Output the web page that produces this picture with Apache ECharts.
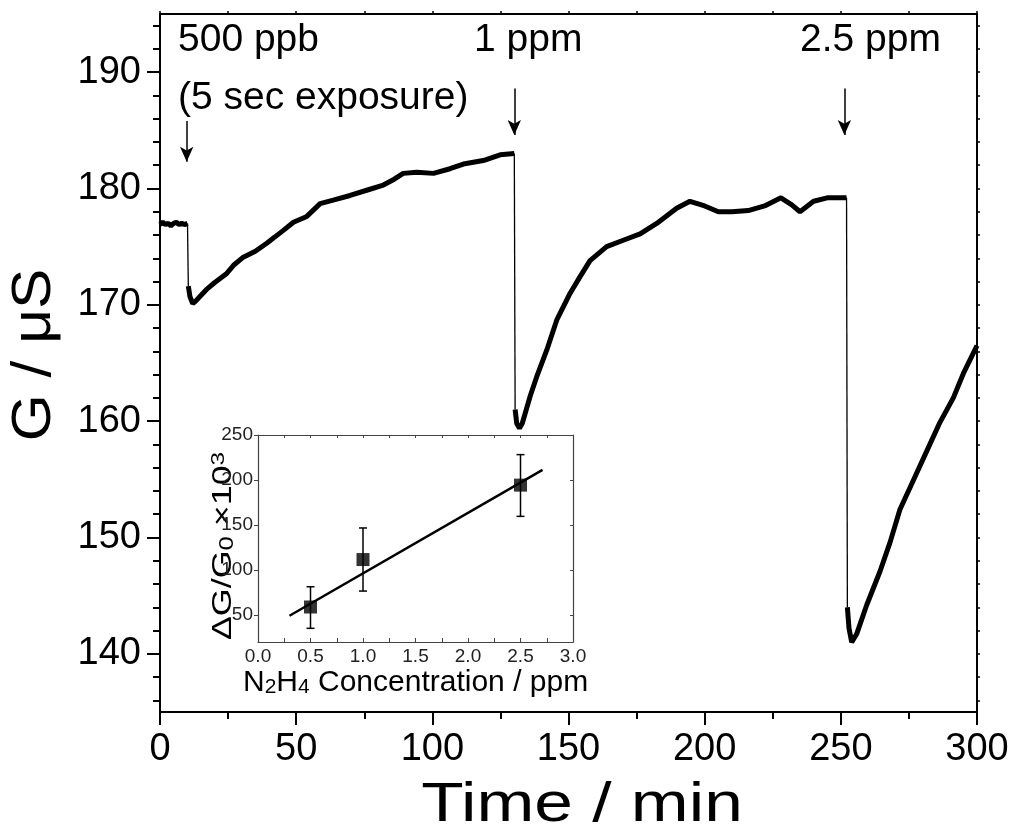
<!DOCTYPE html>
<html><head><meta charset="utf-8">
<script src="https://cdn.jsdelivr.net/npm/echarts@6/dist/echarts.min.js"></script>
<style>html,body{margin:0;padding:0;background:#fff}#c{width:1016px;height:828px}</style>
</head><body><div id="c"></div>
<script>
const FONT = 'Liberation Sans, Arial, sans-serif';

// ---- main trace: [time (min), G (µS)] ----
const baseline0 = [[0,176.9],[1,177.1],[2,176.9],[3,177.0],[4,176.8],[5,177.0],[6,177.1],[7,176.9],[8,177.0],[9,176.9],[10.1,177.0]];
const drop500ppb = [[10.1,177.0],[10.4,171.6]];
const recovery1 = [[10.4,171.6],[11,170.7],[12,170.1],[13,170.3],[15,170.8],[17,171.3],[20,171.9],[24.5,172.7],[27,173.4],[30.6,174.1],[35,174.6],[39.2,175.3],[42,175.8],[45.3,176.4],[49,177.1],[53.9,177.6],[58.8,178.7],[63.6,179.0],[69.8,179.4],[75.9,179.85],[82,180.3],[86,180.8],[89.3,181.3],[94.3,181.4],[100.4,181.3],[106.5,181.7],[111.4,182.1],[118.7,182.4],[124.9,182.9],[130.1,183.0]];
const drop1ppm = [[130.1,183.0],[130.4,161.0]];
const recovery2 = [[130.4,161.0],[131,159.8],[132,159.4],[133,159.8],[134,160.6],[136,162.2],[138.3,163.8],[142,166.1],[145.7,168.7],[150.6,171.0],[154.2,172.4],[157.9,173.8],[164,175.0],[170.1,175.55],[176.3,176.1],[182.4,177.0],[189.7,178.3],[194.6,178.9],[200,178.5],[205,178.0],[210,178.0],[216,178.1],[222,178.5],[228,179.2],[232,178.6],[235,178.0],[240,178.9],[245,179.2],[252.1,179.2]];
const drop2p5ppm = [[252.1,179.2],[252.4,144.0]];
const recovery3 = [[252.4,144.0],[253,142.2],[254,141.0],[255.8,141.7],[259.5,144.2],[264.4,147.1],[268.1,149.6],[271.7,152.4],[276.6,154.9],[281.5,157.4],[286.4,159.9],[291.3,162.0],[295,164.1],[300,166.5]];

// exposure arrows: time, start G, end G
const arrowTimes = [9.8, 130.1, 251.3];
const arrowFrom = [185.8, 188.6, 188.6];
const arrowTo = [182.3, 184.6, 184.6];

// axis ticks
const yMajor = [140,150,160,170,180,190];
const yMinor = [136,138,142,144,146,148,152,154,156,158,162,164,166,168,172,174,176,178,182,184,186,188,192,194];
const yAll = [136,138,140,142,144,146,148,150,152,154,156,158,160,162,164,166,168,170,172,174,176,178,180,182,184,186,188,190,192,194];

// ---- inset ----
const conc = [0.5, 1.0, 2.5];
const response = [58.9, 111.6, 194.3];
const errLow = [35.2, 76.6, 159.6];
const errHigh = [81.4, 146.7, 228.2];
const fitLine = [[0.3, 49.2], [2.71, 211.2]];
const insetYTicks = [50,100,150,200,250];

const chart = echarts.init(document.getElementById('c'), null, {renderer:'canvas'});

const traceStyle = {color:'#000', width:5};
const thin = {color:'#000', width:1.3};

function txt(x, y, text, size, opt) {
  return Object.assign({type:'text', x:x, y:y, style:{text:text, font:size+'px '+FONT, fill:'#000',
    textAlign:'left', align:'left', textVerticalAlign:'top', verticalAlign:'top'}}, opt || {});
}

const option = {
  animation:false,
  backgroundColor:'#fff',
  grid:[
    {left:160, top:14, width:817, height:698, containLabel:false},
    {left:258, top:435, width:315, height:207, containLabel:false}
  ],
  xAxis:[
    {type:'value', gridIndex:0, position:'bottom', min:0, max:300, interval:50,
     axisLine:{show:true, onZero:false, lineStyle:{color:'#000', width:2}},
     axisTick:{show:true, inside:false, length:13, lineStyle:{color:'#000', width:2}},
     minorTick:{show:true, splitNumber:2, length:7, lineStyle:{color:'#000', width:2}},
     axisLabel:{fontSize:38, color:'#000', fontFamily:FONT, margin:19},
     splitLine:{show:false}, minorSplitLine:{show:false}},
    {type:'value', gridIndex:0, position:'top', min:0, max:300, interval:25,
     axisLine:{show:true, onZero:false, lineStyle:{color:'#000', width:2}},
     axisTick:{show:true, inside:false, length:3, lineStyle:{color:'#000', width:1.5}},
     axisLabel:{show:false}, splitLine:{show:false}},
    {type:'value', gridIndex:1, position:'bottom', min:0, max:3, interval:0.5,
     axisLine:{show:true, onZero:false, lineStyle:{color:'#444', width:1.2}},
     axisTick:{show:true, inside:true, length:4, lineStyle:{color:'#444', width:1}},
     minorTick:{show:true, splitNumber:2, length:4, lineStyle:{color:'#444', width:1}},
     axisLabel:{fontSize:19, color:'#222', fontFamily:FONT, margin:5, formatter:v=>v.toFixed(1)},
     splitLine:{show:false}, minorSplitLine:{show:false}},
    {type:'value', gridIndex:1, position:'top', min:0, max:3, interval:0.25,
     axisLine:{show:true, onZero:false, lineStyle:{color:'#444', width:1.2}},
     axisTick:{show:true, inside:true, length:3, lineStyle:{color:'#444', width:1}},
     axisLabel:{show:false}, splitLine:{show:false}}
  ],
  yAxis:[
    {type:'value', gridIndex:0, position:'left', min:135, max:195,
     axisLine:{show:true, onZero:false, lineStyle:{color:'#000', width:2}},
     axisTick:{show:true, inside:false, length:13, customValues:yMajor, lineStyle:{color:'#000', width:2}},
     axisLabel:{fontSize:38, color:'#000', fontFamily:FONT, margin:19, customValues:yMajor},
     splitLine:{show:false}},
    {type:'value', gridIndex:0, position:'left', min:135, max:195,
     axisLine:{show:false},
     axisTick:{show:true, inside:false, length:7, customValues:yMinor, lineStyle:{color:'#000', width:2}},
     axisLabel:{show:false}, splitLine:{show:false}},
    {type:'value', gridIndex:0, position:'right', min:135, max:195,
     axisLine:{show:true, onZero:false, lineStyle:{color:'#000', width:2}},
     axisTick:{show:true, inside:false, length:3, customValues:yAll, lineStyle:{color:'#000', width:1.5}},
     axisLabel:{show:false}, splitLine:{show:false}},
    {type:'value', gridIndex:1, position:'left', min:20, max:250,
     axisLine:{show:true, onZero:false, lineStyle:{color:'#444', width:1.2}},
     axisTick:{show:true, inside:false, length:4, customValues:insetYTicks, lineStyle:{color:'#444', width:1}},
     axisLabel:{fontSize:19, color:'#222', fontFamily:FONT, margin:5, customValues:insetYTicks},
     splitLine:{show:false}},
    {type:'value', gridIndex:1, position:'right', min:20, max:250,
     axisLine:{show:true, onZero:false, lineStyle:{color:'#444', width:1.2}},
     axisTick:{show:true, inside:true, length:3, customValues:insetYTicks, lineStyle:{color:'#444', width:1}},
     axisLabel:{show:false}, splitLine:{show:false}}
  ],
  series:[
    {type:'line', xAxisIndex:0, yAxisIndex:0, data:baseline0, showSymbol:false, lineStyle:traceStyle,
     markLine:{silent:true, symbol:['none','arrow'], symbolSize:[10,15], label:{show:false},
       lineStyle:{color:'#000', width:1.5, type:'solid'},
       data: arrowTimes.map((t,i)=>[{coord:[t, arrowFrom[i]]},{coord:[t, arrowTo[i]]}])}},
    {type:'line', xAxisIndex:0, yAxisIndex:0, data:drop500ppb, showSymbol:false, lineStyle:thin},
    {type:'line', xAxisIndex:0, yAxisIndex:0, data:recovery1, showSymbol:false, lineStyle:traceStyle},
    {type:'line', xAxisIndex:0, yAxisIndex:0, data:drop1ppm, showSymbol:false, lineStyle:thin},
    {type:'line', xAxisIndex:0, yAxisIndex:0, data:recovery2, showSymbol:false, lineStyle:traceStyle},
    {type:'line', xAxisIndex:0, yAxisIndex:0, data:drop2p5ppm, showSymbol:false, lineStyle:thin},
    {type:'line', xAxisIndex:0, yAxisIndex:0, data:recovery3, showSymbol:false, lineStyle:traceStyle},
    // inset
    {type:'line', xAxisIndex:2, yAxisIndex:3, data:fitLine, showSymbol:false, lineStyle:{color:'#000', width:2.5}},
    {type:'custom', xAxisIndex:2, yAxisIndex:3,
     data: conc.map((c,i)=>[c, errLow[i], errHigh[i]]),
     renderItem:(params, api)=>{
       const lo = api.coord([api.value(0), api.value(1)]);
       const hi = api.coord([api.value(0), api.value(2)]);
       const w = 4;
       return {type:'group', children:[
         {type:'line', shape:{x1:lo[0], y1:lo[1], x2:hi[0], y2:hi[1]}, style:{stroke:'#000', lineWidth:1.5}},
         {type:'line', shape:{x1:lo[0]-w, y1:lo[1], x2:lo[0]+w, y2:lo[1]}, style:{stroke:'#000', lineWidth:1.5}},
         {type:'line', shape:{x1:hi[0]-w, y1:hi[1], x2:hi[0]+w, y2:hi[1]}, style:{stroke:'#000', lineWidth:1.5}}
       ]};
     }},
    {type:'scatter', xAxisIndex:2, yAxisIndex:3, data: conc.map((c,i)=>[c, response[i]]),
     symbol:'rect', symbolSize:13, itemStyle:{color:'#000'}}
  ],
  graphic:[
    txt(178, 21, '500 ppb', 39),
    txt(178, 79, '(5 sec exposure)', 39),
    txt(474, 21, '1 ppm', 39),
    txt(800, 21, '2.5 ppm', 39),
    {type:'text', x:582, y:778, scaleX:1.24, style:{text:'Time / min', font:'56px '+FONT, fill:'#000',
      textAlign:'center', align:'center', textVerticalAlign:'top', verticalAlign:'top'}},
    {type:'text', x:35, y:355, rotation:Math.PI/2, scaleX:1.08, style:{text:'G / μS', font:'56px '+FONT, fill:'#000',
      textAlign:'center', align:'center', textVerticalAlign:'middle', verticalAlign:'middle'}},
    {type:'text', x:243, y:668, style:{
      text:'{n|N}{s|2}{n|H}{s|4}{n| Concentration / ppm}', textAlign:'left', align:'left', textVerticalAlign:'top', verticalAlign:'top',
      rich:{n:{fontSize:30, fontFamily:FONT, lineHeight:30, verticalAlign:'top', fill:'#000'},
            s:{fontSize:21, fontFamily:FONT, lineHeight:21, verticalAlign:'bottom', fill:'#000'}},
      lineHeight:42}},
    {type:'text', x:223, y:546, rotation:Math.PI/2, scaleX:1.28, style:{
      text:'{n|ΔG/G}{s|0}{n| ×10}{p|3}', textAlign:'center', align:'center', textVerticalAlign:'middle', verticalAlign:'middle',
      rich:{n:{fontSize:28, fontFamily:FONT, lineHeight:28, verticalAlign:'middle', fill:'#000'},
            s:{fontSize:20, fontFamily:FONT, lineHeight:20, verticalAlign:'bottom', fill:'#000'},
            p:{fontSize:19, fontFamily:FONT, lineHeight:19, verticalAlign:'top', fill:'#000'}},
      lineHeight:44}}
  ]
};
chart.setOption(option);
</script>
</body></html>
